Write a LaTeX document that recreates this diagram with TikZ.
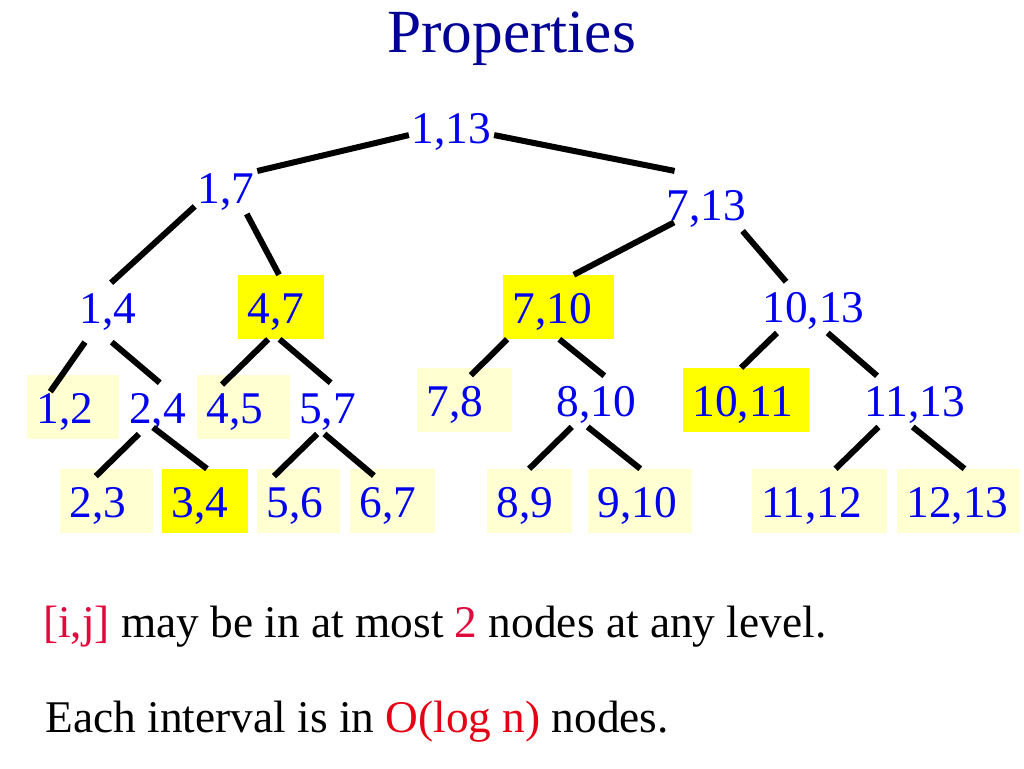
\documentclass[tikz,border=0pt]{standalone}
\usepackage{fontspec}
\setmainfont{Liberation Serif}
\definecolor{LabelBlue}{RGB}{0,0,240}
\definecolor{TitleNavy}{RGB}{0,0,150}
\definecolor{HotYellow}{RGB}{255,255,0}
\definecolor{PaleYellow}{RGB}{255,255,210}
\definecolor{MarkRed}{RGB}{225,10,60}
\definecolor{LogRed}{RGB}{230,0,20}
\tikzset{
	lbl/.style={anchor=base, text=LabelBlue, font=\fontsize{34}{40}\selectfont,
		inner xsep=2pt, inner ysep=3pt, text height=27pt, text depth=5pt},
	boxlbl/.style={anchor=base west, text=LabelBlue, font=\fontsize{34}{40}\selectfont,
		align=left, inner xsep=7pt, inner ysep=4pt, text height=32pt, text depth=8pt},
	pale/.style={boxlbl, fill=PaleYellow},
	hot/.style={boxlbl, fill=HotYellow},
	note/.style={anchor=base west, inner sep=0pt, font=\fontsize{34}{40}\selectfont},
	branch/.style={line width=4.5pt}
}
\begin{document}
\begin{tikzpicture}[x=0.75pt,y=-0.75pt]
	
	\fill[white] (0,0) rectangle (1024,768);
	\useasboundingbox (0,0) rectangle (1024,768);
	
	\node[
	anchor=base,
	inner sep=0pt,
	text=TitleNavy,
	font=\fontsize{46}{52}\selectfont
	]
	(title) at (511.5,52)
	{Properties};
	
	% top of the tree
	\node[lbl] (n1x13) at (451.5,143) {1,13};
	\node[lbl] (n1x7) at (226,203) {1,7};
	\node[lbl] (n7x13) at (706,220) {7,13};
	
	\node[lbl] (n1x4) at (108,323) {1,4};
	\node[hot, text width=50.5pt] (n4x7) at (238,323) {4,7};
	\node[hot, text width=69.25pt] (n7x10) at (503,323) {7,10};
	\node[lbl] (n10x13) at (813.5,322) {10,13};
	
	\node[pale, text width=55pt] (n1x2) at (27,423) {1,2};
	\node[lbl] (n2x4) at (157.5,423) {2,4};
	\node[pale, text width=55.75pt] (n4x5) at (197,423) {4,5};
	\node[lbl] (n5x7) at (327.5,423) {5,7};
	\node[pale, text width=57.25pt] (n7x8) at (417,416) {7,8};
	\node[lbl] (n8x10) at (596.5,416) {8,10};
	\node[hot, text width=80.5pt] (n10x11) at (683,416) {10,11};
	\node[lbl] (n11x13) at (915,416) {11,13};
	
	% leaves
	\node[pale, text width=55.75pt] (n2x3) at (60,517) {2,3};
	\node[hot, text width=50.5pt] (n3x4) at (162,517) {3,4};
	\node[pale, text width=48.25pt] (n5x6) at (257,517) {5,6};
	\node[pale, text width=49.75pt] (n6x7) at (350,517) {6,7};
	\node[pale, text width=49.75pt] (n8x9) at (487,517) {8,9};
	\node[pale, text width=64pt] (n9x10) at (588,517) {9,10};
	\node[pale, text width=87.25pt] (n11x12) at (752,517) {11,12};
	\node[pale, text width=78.25pt] (n12x13) at (897,517) {12,13};
	
	\draw[branch] (n1x13.189) -- (n1x7.29);
	\draw[branch, shorten >=34pt] (n1x13.351) -- (n7x13.63);
	\draw[branch] (n1x7.210) -- (n1x4.83);
	\draw[branch] (n1x7.309) -- (n4x7.94);
	\draw[branch, shorten <=-9pt] (n7x13.208) -- (n7x10.65);
	\draw[branch] (n7x13.325) -- (n10x13.137);
	
	\draw[branch, shorten <=7.5pt, shorten >=-15.5pt] (n1x4.236) -- (n1x2.109);
	\draw[branch, shorten <=9.5pt] (n1x4.257) -- (n2x4.85);
	\draw[branch, shorten >=-10.5pt] (n4x7.248) -- (n4x5.110);
	\draw[branch] (n4x7.267) -- (n5x7.83);
	\draw[branch, shorten >=-8pt] (n7x10.212) -- (n7x8.67);
	\draw[branch] (n7x10.271) -- (n8x10.73);
	\draw[branch] (n10x13.215) -- (n10x11.99);
	\draw[branch] (n10x13.299) -- (n11x13.146);
	
	\draw[branch, shorten >=-8pt] (n2x4.234) -- (n2x3.96);
	\draw[branch, shorten <=-8pt] (n2x4.279) -- (n3x4.87);
	\draw[branch, shorten >=-8pt] (n5x7.248) -- (n5x6.118);
	\draw[branch, shorten >=-8pt] (n5x7.263) -- (n6x7.130);
	\draw[branch] (n8x10.226) -- (n8x9.91);
	\draw[branch] (n8x10.251) -- (n9x10.90);
	\draw[branch] (n11x13.215) -- (n11x12.64);
	\draw[branch] (n11x13.265) -- (n12x13.80);
	
	\node[note] (fact1) at (43,637)
	{\textcolor{MarkRed}{[i,j]} may be in at most \textcolor{MarkRed}{2} nodes at any level.};
	\node[note] (fact2) at (45.5,732)
	{Each interval is in \textcolor{LogRed}{O(log n)} nodes.};
	
\end{tikzpicture}
\end{document}
